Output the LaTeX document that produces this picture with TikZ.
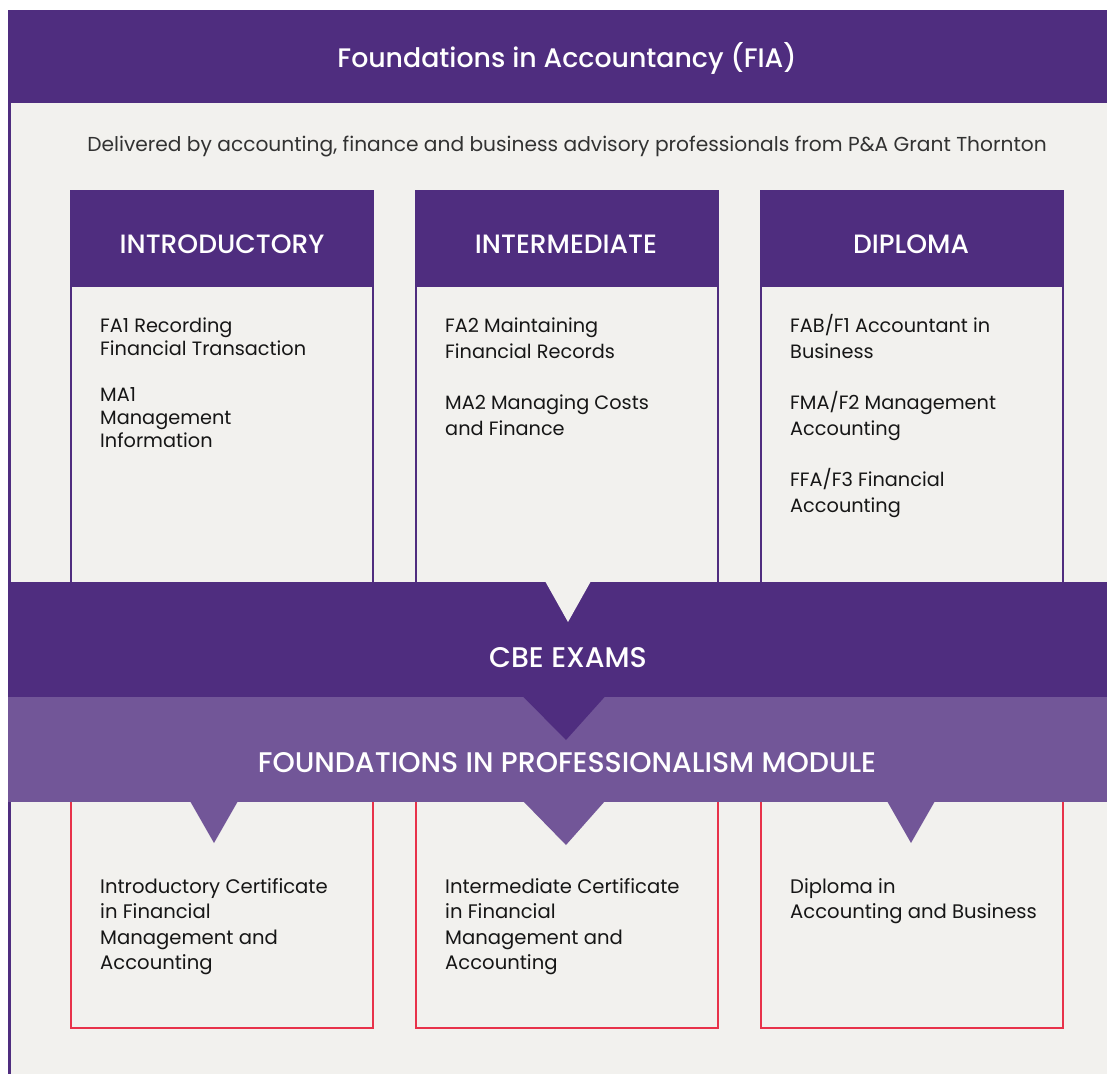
\documentclass[tikz,border=0pt]{standalone}
\usepackage{fontspec}
\setmainfont{Poppins}
\newfontfamily\medfont{Poppins}[UprightFont={* Medium}]
\definecolor{darkp}{RGB}{79,45,127}
\definecolor{lightp}{RGB}{114,86,152}
\definecolor{bgc}{RGB}{242,241,238}
\definecolor{redc}{RGB}{232,50,74}
\definecolor{ink}{RGB}{22,22,22}
\begin{document}
\begin{tikzpicture}[x=1pt,y=-1pt,
  body/.style={anchor=base west,inner sep=0pt,align=left,text=ink,font=\fontsize{19.3}{23}\selectfont},
  bodyw/.style={body,font=\fontsize{19.3}{26}\selectfont},
  qual/.style={body,font=\fontsize{19.6}{25.5}\selectfont},
  head/.style={anchor=base,inner sep=0pt,text=white,font=\medfont\fontsize{26.5}{30}\selectfont},
  band/.style={anchor=base,inner sep=0pt,text=white,font=\medfont\fontsize{28.4}{32}\selectfont}]
\useasboundingbox (0,0) rectangle (1107,1074);
\fill[white] (0,0) rectangle (1107,1074);
\fill[bgc] (8,10) rectangle (1107,1074);
\draw[darkp,line width=3pt] (9.5,10) -- (9.5,1074);
% top banner
\fill[darkp] (8,10) rectangle (1107,103);
\node[anchor=base,inner sep=0pt,text=white,font=\medfont\fontsize{26.8}{30}\selectfont] (title) at (567,67) {Foundations in Accountancy (FIA)};
\node[anchor=base,inner sep=0pt,text=ink!88,font=\fontsize{20.2}{24}\selectfont] (sub) at (567,151) {Delivered by accounting, finance and business advisory professionals from P\&A Grant Thornton};
% columns
\foreach \x/\n in {70/c1,415/c2,760/c3}{
  \draw[darkp,line width=2pt] (\x+1,191) rectangle (\x+303,600);
  \fill[darkp] (\x,191) rectangle (\x+304,287);
  \draw[redc,line width=2pt] (\x+1,790) rectangle (\x+303,1028);
}
\node[head] (h1) at (222,253) {INTRODUCTORY};
\node[head] (h2) at (566,253) {INTERMEDIATE};
\node[head] (h3) at (911,253) {DIPLOMA};
\node[body] (m11) at (100,355) {FA1 Recording\\Financial Transaction};
\node[body] (m12) at (100,447) {MA1\\Management\\Information};
\node[bodyw] (m21) at (445,358) {FA2 Maintaining\\Financial Records};
\node[bodyw] (m22) at (445,435) {MA2 Managing Costs\\and Finance};
\node[bodyw] (m31) at (790,358) {FAB/F1 Accountant in\\Business};
\node[bodyw] (m32) at (790,435) {FMA/F2 Management\\Accounting};
\node[bodyw] (m33) at (790,512) {FFA/F3 Financial\\Accounting};
% CBE band
\fill[darkp] (8,582) rectangle (1107,697);
\fill[bgc] (545,581) -- (591,581) -- (568,622) -- cycle;
\node[band] (cbe) at (568,667) {CBE EXAMS};
% professionalism band
\fill[lightp] (8,697) rectangle (1107,802);
\fill[darkp] (523,696.5) -- (605,696.5) -- (566,740) -- cycle;
\node[band] (fpm) at (567,772) {FOUNDATIONS IN PROFESSIONALISM MODULE};
\fill[lightp] (190,801) -- (238,801) -- (214,843) -- cycle;
\fill[lightp] (523,801) -- (605,801) -- (566,845) -- cycle;
\fill[lightp] (887,801) -- (935,801) -- (911,843) -- cycle;
% qualifications
\node[qual] (q1) at (100,969.5) {Introductory Certificate\\in Financial\\Management and\\Accounting};
\node[qual] (q2) at (445,969.5) {Intermediate Certificate\\in Financial\\Management and\\Accounting};
\node[qual] (q3) at (790,918.5) {Diploma in\\Accounting and Business};
\end{tikzpicture}
\end{document}
